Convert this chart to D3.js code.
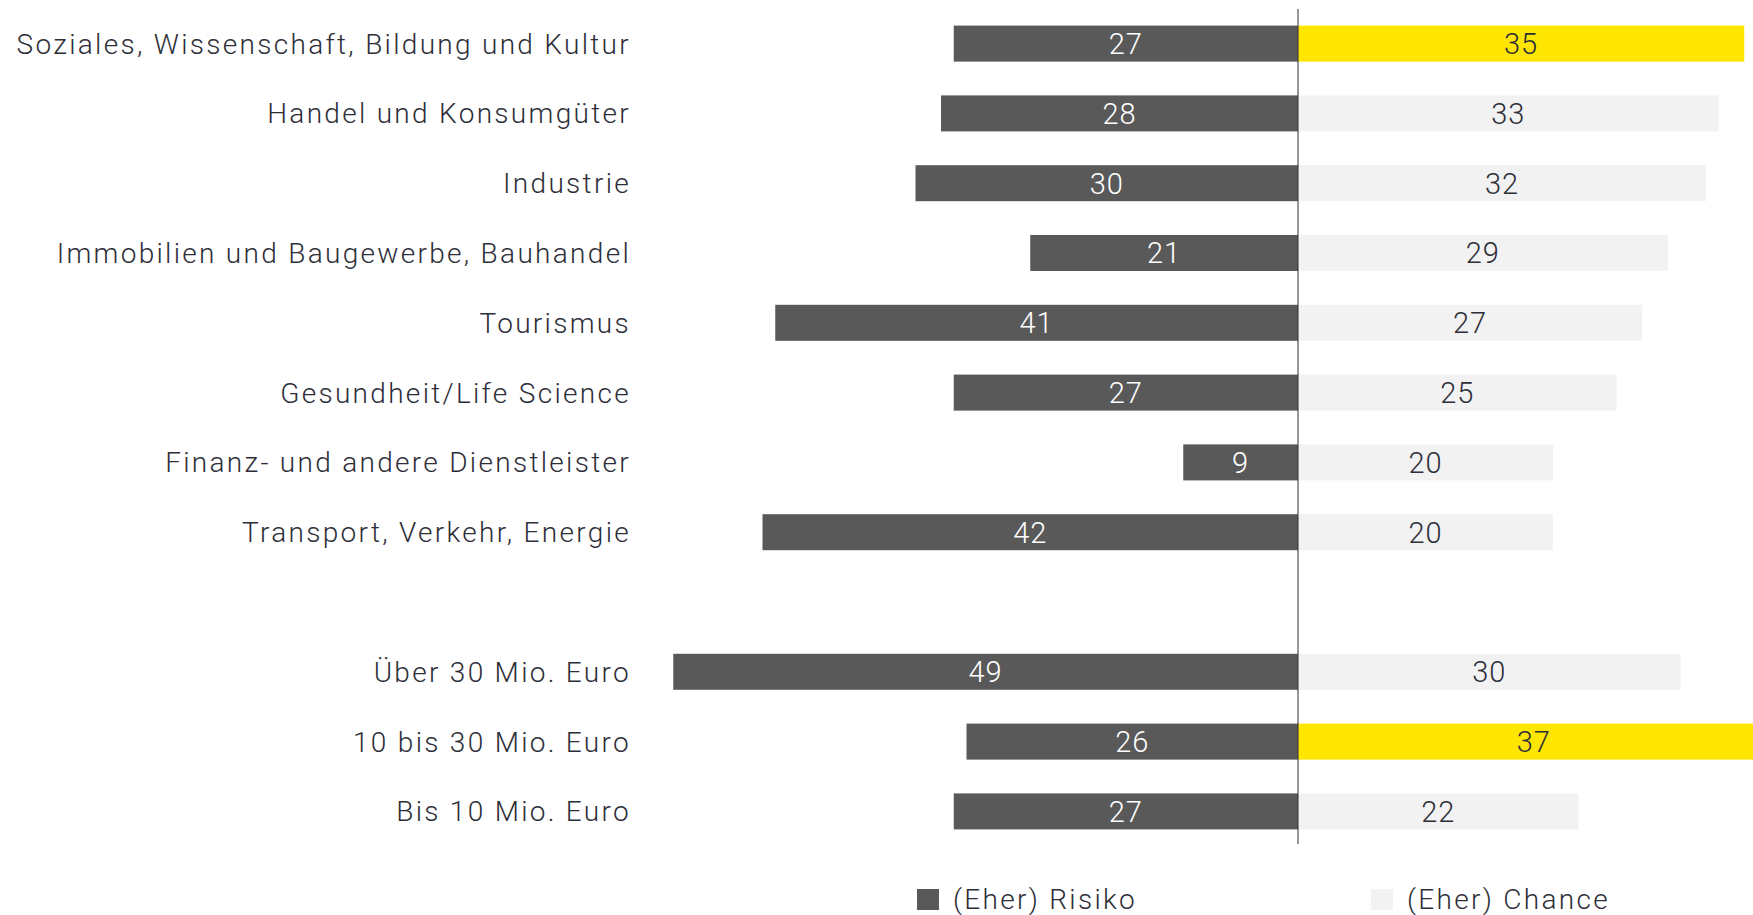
<!DOCTYPE html>
<html>
<head>
<meta charset="utf-8">
<script src="https://cdn.jsdelivr.net/npm/d3@7"></script>
<style>
  body { margin: 0; background: #fff; overflow: hidden; }
  text { font-family: Roboto, "Noto Sans", sans-serif; font-weight: 300; }
</style>
</head>
<body>
<script>
  // categories (Branchen, then Umsatzgrößen after an empty slot)
  const branchen = [
    "Soziales, Wissenschaft, Bildung und Kultur",
    "Handel und Konsumgüter",
    "Industrie",
    "Immobilien und Baugewerbe, Bauhandel",
    "Tourismus",
    "Gesundheit/Life Science",
    "Finanz- und andere Dienstleister",
    "Transport, Verkehr, Energie"
  ];
  const groessen = ["Über 30 Mio. Euro", "10 bis 30 Mio. Euro", "Bis 10 Mio. Euro"];

  // values in %, same order as branchen then groessen
  const risiko = [27, 28, 30, 21, 41, 27, 9, 42, 49, 26, 27];
  const chance = [35, 33, 32, 29, 27, 25, 20, 20, 30, 37, 22];
  // highest chance value of each group is highlighted
  const highlight = [true, false, false, false, false, false, false, false, false, true, false];

  const legendLabels = ["(Eher) Risiko", "(Eher) Chance"];

  const categories = branchen.concat(groessen);
  const rows = categories.map((c, i) => ({
    name: c, risiko: risiko[i], chance: chance[i], hl: highlight[i]
  }));

  const width = 1753, height = 915;
  const zeroX = 1298, unit = 12.75;

  const svg = d3.select("body").append("svg")
    .attr("width", width)
    .attr("height", height);

  const x = d3.scaleLinear()
    .domain([-50, 35])
    .range([zeroX - 50 * unit, zeroX + 35 * unit]);

  const y = d3.scaleBand()
    .domain(branchen.concat(["__gap__"], groessen))
    .range([8.7, 846.3])
    .paddingInner(0.484)
    .paddingOuter(0.242);

  const g = svg.append("g");

  // risk bars (left)
  g.selectAll(".risk")
    .data(rows)
    .join("rect")
    .attr("class", "risk")
    .attr("x", d => x(-d.risiko))
    .attr("y", d => y(d.name))
    .attr("width", d => x(0) - x(-d.risiko))
    .attr("height", y.bandwidth())
    .attr("fill", "#595959");

  // chance bars (right)
  g.selectAll(".chance")
    .data(rows)
    .join("rect")
    .attr("class", "chance")
    .attr("x", x(0))
    .attr("y", d => y(d.name))
    .attr("width", d => x(d.chance) - x(0))
    .attr("height", y.bandwidth())
    .attr("fill", d => d.hl ? "#ffe600" : "#f2f2f2");

  // value labels
  g.selectAll(".rlab")
    .data(rows)
    .join("text")
    .attr("class", "rlab")
    .attr("x", d => (x(-d.risiko) + x(0)) / 2)
    .attr("y", d => y(d.name) + y.bandwidth() / 2)
    .attr("dy", "0.36em")
    .attr("text-anchor", "middle")
    .attr("font-size", 29)
    .attr("letter-spacing", 1)
    .attr("fill", "#fff")
    .text(d => d.risiko);

  g.selectAll(".clab")
    .data(rows)
    .join("text")
    .attr("class", "clab")
    .attr("x", d => (x(d.chance) + x(0)) / 2)
    .attr("y", d => y(d.name) + y.bandwidth() / 2)
    .attr("dy", "0.36em")
    .attr("text-anchor", "middle")
    .attr("font-size", 29)
    .attr("letter-spacing", 1)
    .attr("fill", "#2e2e38")
    .text(d => d.chance);

  // category labels
  g.selectAll(".cat")
    .data(rows)
    .join("text")
    .attr("class", "cat")
    .attr("x", 631)
    .attr("y", d => y(d.name) + y.bandwidth() / 2)
    .attr("dy", "0.36em")
    .attr("text-anchor", "end")
    .attr("font-size", 28)
    .attr("letter-spacing", 2.3)
    .attr("fill", "#2e2e38")
    .text(d => d.name);

  // zero line
  g.append("line")
    .attr("x1", x(0)).attr("x2", x(0))
    .attr("y1", 9).attr("y2", 844)
    .attr("stroke", "#2e2e38")
    .attr("stroke-width", 1);

  // legend
  const legend = svg.append("g");
  const legendItems = [
    { label: legendLabels[0], color: "#595959", x: 917 },
    { label: legendLabels[1], color: "#f2f2f2", x: 1371 }
  ];
  const lg = legend.selectAll("g")
    .data(legendItems)
    .join("g")
    .attr("transform", d => "translate(" + d.x + ",889)");
  lg.append("rect")
    .attr("width", 22).attr("height", 21)
    .attr("fill", d => d.color);
  lg.append("text")
    .attr("x", 36)
    .attr("y", 10)
    .attr("dy", "0.36em")
    .attr("font-size", 28)
    .attr("letter-spacing", 2.3)
    .attr("fill", "#2e2e38")
    .text(d => d.label);
</script>
</body>
</html>
